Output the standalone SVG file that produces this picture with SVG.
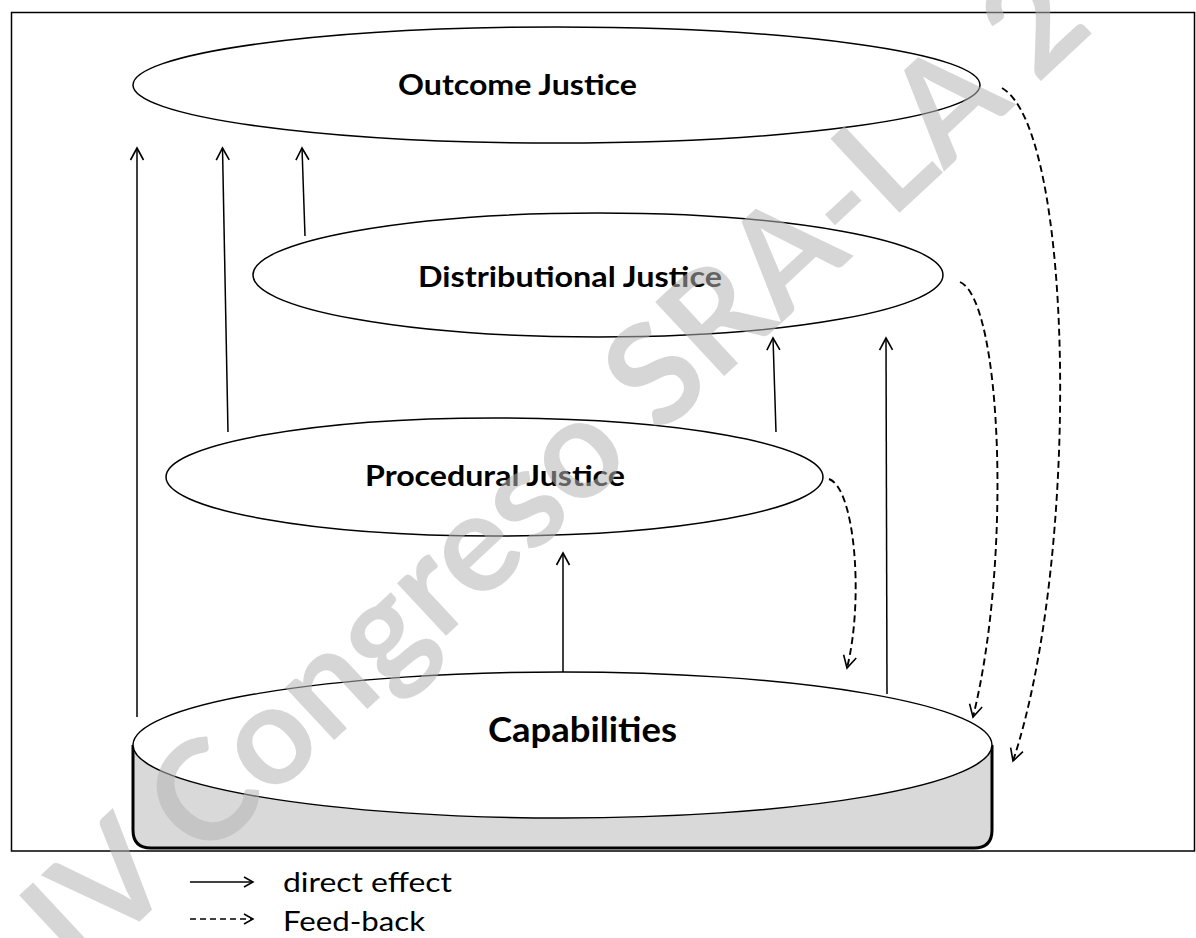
<svg xmlns="http://www.w3.org/2000/svg" width="1196" height="938" viewBox="0 0 1196 938">
  <style>
    .node { fill: #ffffff; stroke: #000000; stroke-width: 1.5; }
    .label { font-family: Lato, "Liberation Sans", sans-serif; font-weight: bold; fill: #000000; text-anchor: start; }
    .legend { font-family: Lato, "Liberation Sans", sans-serif; font-size: 26px; fill: #000000; }
    .direct { fill: none; stroke: #000000; stroke-width: 1.5; marker-end: url(#head); }
    .feedback { fill: none; stroke: #000000; stroke-width: 1.9; stroke-dasharray: 7 4; marker-end: url(#head); }
    .watermark { font-family: Lato, "Liberation Sans", sans-serif; font-weight: bold; font-size: 140px; fill: #b4b4b4; fill-opacity: 0.55; }
  </style>
  <defs>
    <marker id="head" markerUnits="userSpaceOnUse" markerWidth="16" markerHeight="16" viewBox="0 -8 16 16" refX="13" refY="0" orient="auto" overflow="visible">
      <path d="M1,-6.5 L13,0 L1,6.5" fill="none" stroke="#000000" stroke-width="1.6" stroke-dasharray="none"/>
    </marker>
    <marker id="headSmall" markerUnits="userSpaceOnUse" markerWidth="12" markerHeight="12" viewBox="0 -6 12 12" refX="10" refY="0" orient="auto" overflow="visible">
      <path d="M1,-5 L10,0 L1,5" fill="none" stroke="#000000" stroke-width="1.5" stroke-dasharray="none"/>
    </marker>
  </defs>

  <rect width="1196" height="938" fill="#ffffff"/>

  <!-- frame -->
  <rect x="11.5" y="12.5" width="1183" height="838.5" fill="none" stroke="#000000" stroke-width="1.5"/>

  <!-- capabilities base (cylinder) -->
  <g id="capabilities">
    <path d="M133,745 V830 Q133,848 151,848 H974 Q992,848 992,830 V745 Z" fill="#d9d9d9" stroke="none"/>
    <path d="M133,745 V830 Q133,848 151,848 H974 Q992,848 992,830 V745" fill="none" stroke="#000000" stroke-width="3"/>
    <ellipse class="node" cx="562.5" cy="745" rx="429.5" ry="73"/>
    <text class="label" x="488" y="742" font-size="35" textLength="189" lengthAdjust="spacingAndGlyphs">Capabilities</text>
  </g>

  <g id="outcome-justice">
    <ellipse class="node" cx="556.5" cy="85" rx="423.5" ry="58"/>
    <text class="label" x="398" y="95" font-size="29" textLength="239" lengthAdjust="spacingAndGlyphs">Outcome Justice</text>
  </g>

  <g id="distributional-justice">
    <ellipse class="node" cx="598" cy="275" rx="345" ry="62"/>
    <text class="label" x="418" y="287" font-size="29" textLength="304" lengthAdjust="spacingAndGlyphs">Distributional Justice</text>
  </g>

  <g id="procedural-justice">
    <ellipse class="node" cx="494.5" cy="477" rx="328.5" ry="59"/>
    <text class="label" x="365" y="486" font-size="29" textLength="260" lengthAdjust="spacingAndGlyphs">Procedural Justice</text>
  </g>

  <!-- connectors -->
  <g id="connectors">
    <!-- direct effects -->
    <path class="direct" d="M137,717 L137,148"/>
    <path class="direct" d="M228,432 L222.5,148"/>
    <path class="direct" d="M305,236 L302,148"/>
    <path class="direct" d="M776,432 L773,338"/>
    <path class="direct" d="M887,694 L886,338"/>
    <path class="direct" d="M563,672 L563,553"/>
    <!-- feed-back loops -->
    <path class="feedback" d="M829,479 C855,488 864,600 847,668"/>
    <path class="feedback" d="M960,282 C1002,300 1012,560 973,717"/>
    <path class="feedback" d="M1002,88 C1075,130 1080,560 1013,761"/>
  </g>

  <!-- legend -->
  <g id="legend">
    <path d="M190,882 L253,882" fill="none" stroke="#000000" stroke-width="1.5" marker-end="url(#headSmall)"/>
    <text class="legend" x="283" y="892" textLength="169" lengthAdjust="spacingAndGlyphs">direct effect</text>
    <path d="M190,919 L253,919" fill="none" stroke="#000000" stroke-width="1.5" stroke-dasharray="6 4" marker-end="url(#headSmall)"/>
    <text class="legend" x="283" y="931" textLength="142" lengthAdjust="spacingAndGlyphs">Feed-back</text>
  </g>

  <!-- watermark -->
  <text class="watermark" x="80" y="977" transform="rotate(-43 80 977)">IV Congreso SRA-LA 2</text>
</svg>
